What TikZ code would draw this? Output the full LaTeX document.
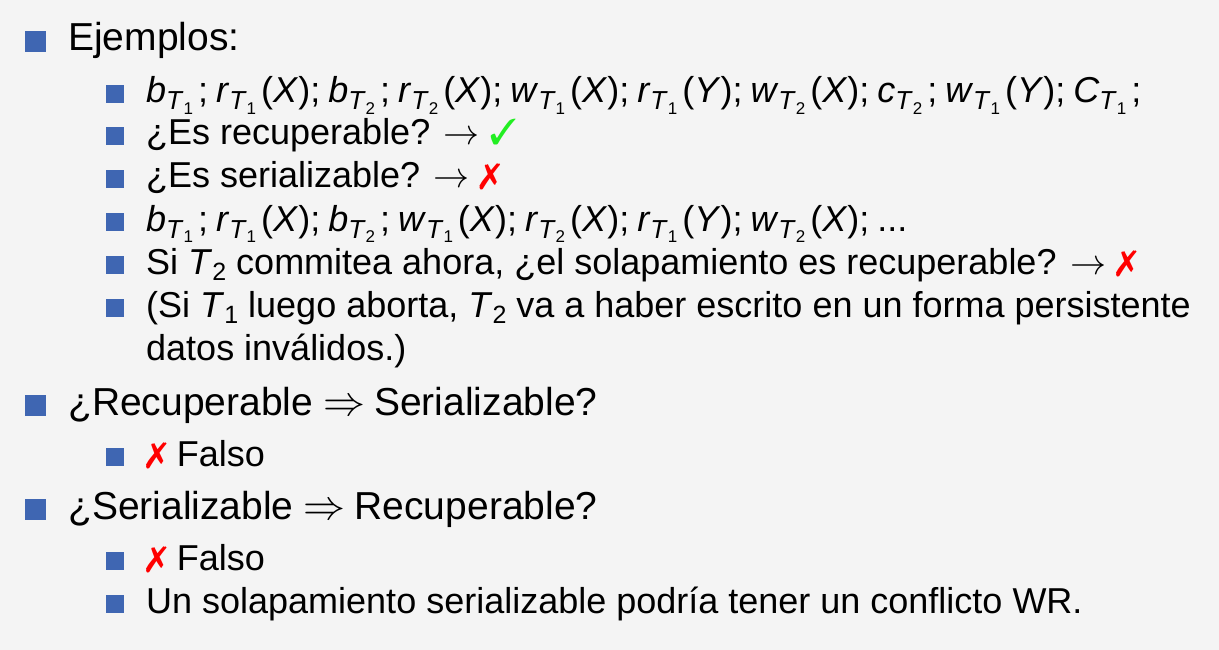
\documentclass[tikz,border=0pt]{standalone}
\usepackage{fontspec}
\setmainfont{Liberation Sans}
\usepackage{pifont}
\usepackage{graphicx}
\definecolor{bgcol}{HTML}{F4F4F4}
\definecolor{bulcol}{HTML}{3F66B2}
\definecolor{okgreen}{HTML}{22EE22}
\definecolor{nored}{HTML}{FF0000}
\newcommand\subT[1]{\raisebox{-7pt}{\fontsize{26}{26}\selectfont\textit{T}\raisebox{-4.5pt}{\fontsize{17}{17}\selectfont #1}}}
\newcommand\opr[3]{\textit{#1}\subT{#2}\kern5pt(\textit{#3})}
\newcommand\opb[2]{\textit{#1}\subT{#2}\kern5pt}
\newcommand\sepp{;\kern8pt}
\newcommand\Tsub[1]{\textit{T}\raisebox{-6pt}{\fontsize{25}{25}\selectfont #1}}
\newcommand\rarr{\mbox{\fontsize{10}{12}\selectfont\scalebox{3.6}{$\rightarrow$}}}
\newcommand\Rarr{\mbox{\fontsize{10}{12}\selectfont\scalebox{4.2}{$\Rightarrow$}}}
\newcommand\okmark{{\color{okgreen}\ding{51}}}
\newcommand\nomark{{\color{nored}\ding{55}}}
\tikzset{
  bulA/.style={fill=bulcol, minimum size=21pt, inner sep=0pt, anchor=south west},
  bulB/.style={fill=bulcol, minimum size=18pt, inner sep=0pt, anchor=south west},
  txtA/.style={anchor=base west, inner sep=0pt, font=\fontsize{39}{46}\selectfont},
  txtB/.style={anchor=base west, inner sep=0pt, font=\fontsize{36}{43}\selectfont},
}
\begin{document}
\begin{tikzpicture}[x=1pt,y=-1pt]
\fill[bgcol] (0,0) rectangle (1219,650);
\useasboundingbox (0,0) rectangle (1219,650);
% level 1: Ejemplos
\node[bulA] (b1) at (25,52) {};
\node[txtA] (t1) at (68,51) {Ejemplos:};
% level 2
\node[bulB] (b2) at (106,103) {};
\node[txtB] (t2) at (146,103) {\opb{b}{1}\sepp\opr{r}{1}{X}\sepp\opb{b}{2}\sepp\opr{r}{2}{X}\sepp\opr{w}{1}{X}\sepp\opr{r}{1}{Y}\sepp\opr{w}{2}{X}\sepp\opb{c}{2}\sepp\opr{w}{1}{Y}\sepp\opb{C}{1};};
\node[bulB] (b3) at (106,145) {};
\node[txtB] (t3) at (146,145) {¿Es recuperable? \rarr\ \okmark};
\node[bulB] (b4) at (106,188) {};
\node[txtB] (t4) at (146,188) {¿Es serializable? \rarr\ \nomark};
\node[bulB] (b5) at (106,231) {};
\node[txtB] (t5) at (146,231) {\opb{b}{1}\sepp\opr{r}{1}{X}\sepp\opb{b}{2}\sepp\opr{w}{1}{X}\sepp\opr{r}{2}{X}\sepp\opr{r}{1}{Y}\sepp\opr{w}{2}{X}\sepp...};
\node[bulB] (b6) at (106,274) {};
\node[txtB] (t6) at (146,274) {Si \Tsub{2} commitea ahora, ¿el solapamiento es recuperable? \rarr\ \nomark};
\node[bulB] (b7) at (106,317) {};
\node[txtB] (t7) at (146,317) {(Si \Tsub{1} luego aborta, \Tsub{2} va a haber escrito en un forma persistente};
\node[txtB] (t7b) at (146,360) {datos inválidos.)};
% level 1: Recuperable => Serializable
\node[bulA] (b8) at (25,416) {};
\node[txtA] (t8) at (68,415) {¿Recuperable\kern10pt\Rarr\kern9pt Serializable?};
\node[bulB] (b9) at (106,466) {};
\node[txtB] (t9) at (146,466) {\nomark\ Falso};
% level 1: Serializable => Recuperable
\node[bulA] (b10) at (25,520) {};
\node[txtA] (t10) at (68,519) {¿Serializable\kern10pt\Rarr\kern9pt Recuperable?};
\node[bulB] (b11) at (106,570) {};
\node[txtB] (t11) at (146,570) {\nomark\ Falso};
\node[bulB] (b12) at (106,613) {};
\node[txtB] (t12) at (146,613) {Un solapamiento serializable podría tener un conflicto WR.};
\end{tikzpicture}
\end{document}
